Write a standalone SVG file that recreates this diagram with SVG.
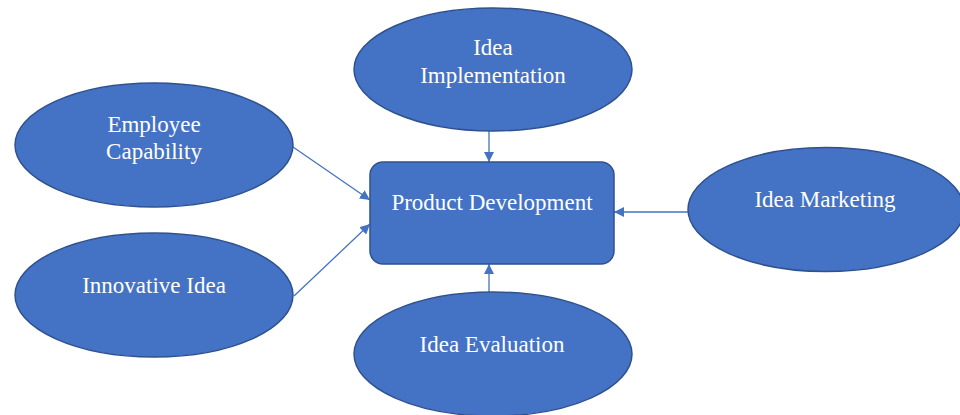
<svg xmlns="http://www.w3.org/2000/svg" width="960" height="415" viewBox="0 0 960 415">
<defs>
<style>
.n{fill:#4472C4;stroke:#2F528F;stroke-width:1.5}
.t{font-family:'Liberation Serif','Times New Roman',serif;font-size:23px;fill:#FFFFFF;text-anchor:middle}
.c{stroke:#4472C4;stroke-width:1.3;fill:none;marker-end:url(#ah)}
</style>
<marker id="ah" viewBox="0 0 10 10" refX="10" refY="5" markerWidth="10" markerHeight="10" markerUnits="userSpaceOnUse" orient="auto">
<path d="M0,0 L10,5 L0,10 z" fill="#4472C4"/>
</marker>
</defs>
<rect width="960" height="415" fill="#FFFFFF"/>
<g id="connectors">
<line class="c" x1="293" y1="147" x2="370" y2="200"/>
<line class="c" x1="294" y1="296" x2="370" y2="224"/>
<line class="c" x1="489" y1="131" x2="489" y2="162"/>
<line class="c" x1="489" y1="292" x2="489" y2="264"/>
<line class="c" x1="688" y1="212" x2="614" y2="212"/>
</g>
<g id="product-development">
<rect class="n" x="370" y="162" width="244" height="102" rx="13" ry="13"/>
<text class="t" x="492" y="210">Product Development</text>
</g>
<g id="employee-capability">
<ellipse class="n" cx="154" cy="145" rx="139" ry="62"/>
<text class="t" x="154" y="132">Employee</text>
<text class="t" x="154" y="159">Capability</text>
</g>
<g id="innovative-idea">
<ellipse class="n" cx="154" cy="295" rx="139" ry="62"/>
<text class="t" x="154" y="293">Innovative Idea</text>
</g>
<g id="idea-implementation">
<ellipse class="n" cx="493" cy="69.5" rx="139" ry="61.5"/>
<text class="t" x="493" y="55">Idea</text>
<text class="t" x="493" y="83">Implementation</text>
</g>
<g id="idea-evaluation">
<ellipse class="n" cx="493" cy="354" rx="139" ry="62"/>
<text class="t" x="492" y="352">Idea Evaluation</text>
</g>
<g id="idea-marketing">
<ellipse class="n" cx="826" cy="209.5" rx="138" ry="62"/>
<text class="t" x="825" y="207">Idea Marketing</text>
</g>
</svg>
